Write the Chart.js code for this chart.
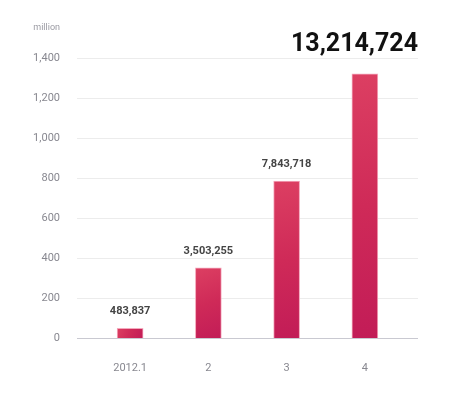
<!DOCTYPE html>
<html>
<head>
<meta charset="utf-8">
<script src="https://cdn.jsdelivr.net/npm/chart.js@4"></script>
<style>
  html, body { margin: 0; padding: 0; background: #fff; }
  #wrap { width: 450px; height: 400px; }
</style>
</head>
<body>
<div id="wrap"><canvas id="myChart" width="450" height="400"></canvas></div>
<script>
// data
const months = ['2012.1', '2', '3', '4'];
const values = [48.3837, 350.3255, 784.3718, 1321.4724];
const valueLabels = ['483,837', '3,503,255', '7,843,718', '13,214,724'];
const yTicks = [0, 200, 400, 600, 800, 1000, 1200, 1400];

const FONT = 'Roboto, "DejaVu Sans", sans-serif';

// wider grid lines than the category area + value labels
const decor = {
    id: 'decor',
    beforeDatasetsDraw(chart) {
        const c = chart.ctx, y = chart.scales.y, a = chart.chartArea;
        c.save();
        yTicks.forEach(t => {
            const py = Math.round(y.getPixelForValue(t)) + 0.5;
            c.strokeStyle = t === 0 ? '#c9c9d1' : '#ececec';
            c.lineWidth = 1;
            c.beginPath();
            c.moveTo(a.left - 14, py);
            c.lineTo(a.right + 14, py);
            c.stroke();
        });
        c.fillStyle = '#9a9aa2';
        c.font = '9px ' + FONT;
        c.textAlign = 'right';
        c.textBaseline = 'middle';
        c.fillText('million', 60, 28);
        c.restore();
    },
    afterDatasetsDraw(chart) {
        const c = chart.ctx, meta = chart.getDatasetMeta(0);
        c.save();
        meta.data.forEach((bar, i) => {
            if (i === values.length - 1) {
                c.fillStyle = '#111';
                c.font = 'bold 25px ' + FONT;
                c.textAlign = 'right';
                c.textBaseline = 'alphabetic';
                c.fillText(valueLabels[i], chart.chartArea.right + 14, 51);
            } else {
                c.fillStyle = '#444';
                c.font = 'bold 11px ' + FONT;
                c.textAlign = 'center';
                c.textBaseline = 'alphabetic';
                c.fillText(valueLabels[i], bar.x, bar.y - 14);
            }
        });
        c.restore();
    }
};

function barFill(context) {
    const chart = context.chart;
    const sx = chart.scales.x, sy = chart.scales.y;
    if (!chart.chartArea || !sx || !sy || context.dataIndex === undefined) return '#d02b5a';
    const x = sx.getPixelForValue(context.dataIndex);
    const top = sy.getPixelForValue(values[context.dataIndex]);
    const bottom = sy.getPixelForValue(0);
    if (![x, top, bottom].every(Number.isFinite)) return '#d02b5a';
    const g = chart.ctx.createLinearGradient(x - 13, top, x + 13, bottom);
    g.addColorStop(0, '#dc3f62');
    g.addColorStop(0.5, '#cf2a58');
    g.addColorStop(1, '#c21c57');
    return g;
}

const ctx = document.getElementById('myChart').getContext('2d');
const myChart = new Chart(ctx, {
    type: 'bar',
    data: {
        labels: months,
        datasets: [{
            data: values,
            backgroundColor: barFill,
            borderColor: '#f4a9bd',
            borderWidth: 1,
            borderSkipped: 'bottom',
            barThickness: 26
        }]
    },
    options: {
        responsive: false,
        animation: false,
        layout: { padding: { left: 0, right: 46, top: 58, bottom: 0 } },
        plugins: { legend: { display: false }, tooltip: { enabled: false } },
        scales: {
            x: {
                grid: { display: false, drawTicks: false },
                border: { display: false },
                ticks: { color: '#888890', font: { family: FONT, size: 11 }, padding: 24 },
                afterFit(s) { s.height = 62; }
            },
            y: {
                min: 0, max: 1400,
                grid: { display: false, drawTicks: false },
                border: { display: false },
                ticks: { stepSize: 200, color: '#888890', font: { family: FONT, size: 11 }, padding: 31 },
                afterFit(s) { s.width = 91; }
            }
        }
    },
    plugins: [decor]
});
</script>
</body>
</html>
